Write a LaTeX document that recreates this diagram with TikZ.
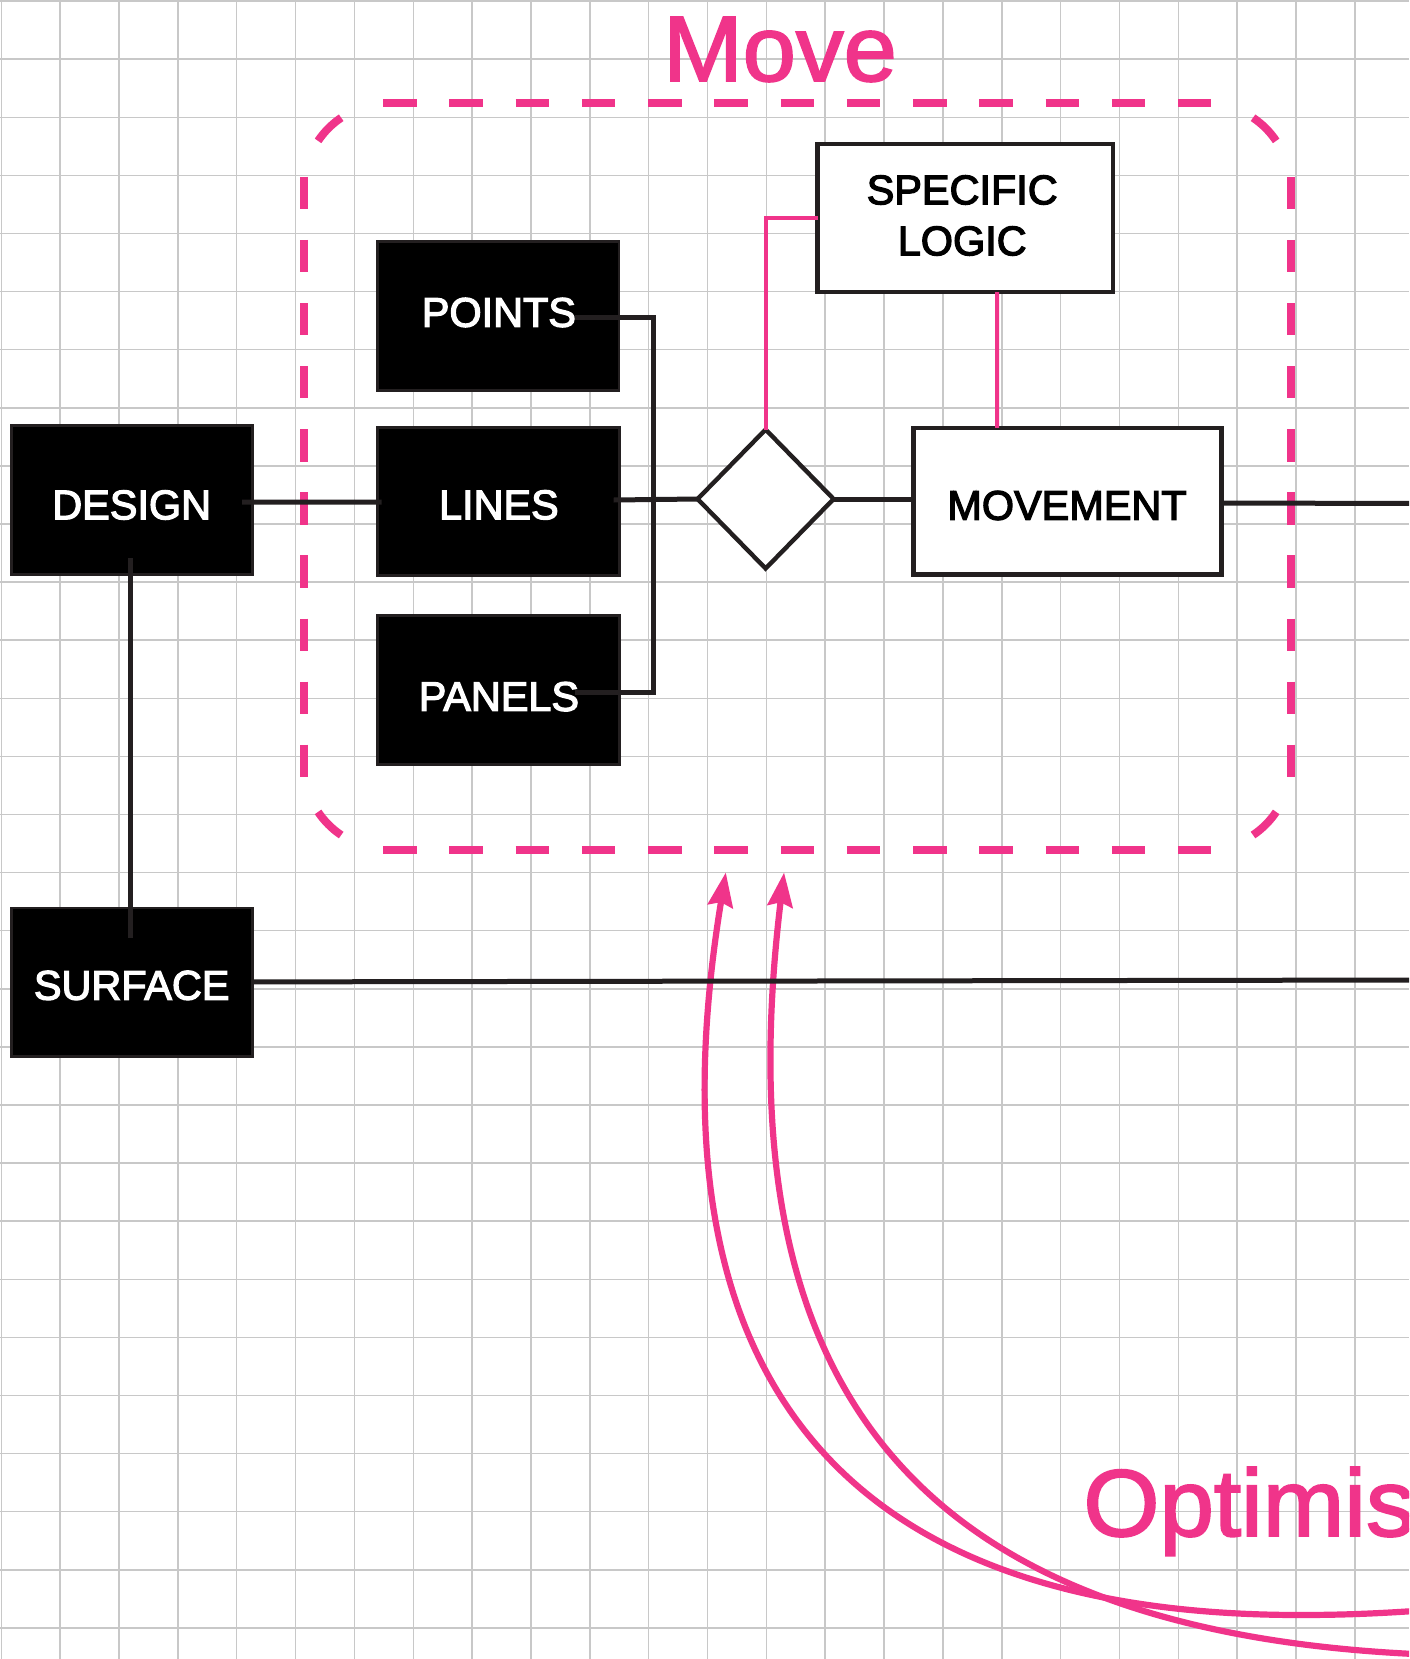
\documentclass[tikz,border=0pt]{standalone}
\usepackage{fontspec}
\setmainfont{Liberation Sans}
\newfontfamily\boxfont[FakeBold=3]{Liberation Sans}
\newfontfamily\bigfont[FakeBold=2,FakeStretch=1.03]{Liberation Sans}
\usetikzlibrary{shapes.geometric,arrows.meta,calc}
\definecolor{pinkc}{RGB}{240,52,138}
\definecolor{inkc}{RGB}{35,31,32}
\definecolor{gridc}{RGB}{200,200,200}
\tikzset{
  blackbox/.style={rectangle,fill=black,draw=inkc,line width=1.4pt,inner sep=0pt,outer sep=0pt},
  whitebox/.style={rectangle,fill=white,draw=inkc,line width=2.2pt,inner sep=0pt,outer sep=0pt},
  decision/.style={diamond,fill=white,draw=inkc,line width=2.2pt,inner sep=0pt,outer sep=0pt},
  wlabel/.style={text=white,font=\boxfont\fontsize{20.7pt}{25pt}\selectfont,inner sep=0pt,align=center},
  klabel/.style={text=black,font=\boxfont\fontsize{20.7pt}{25.5pt}\selectfont,inner sep=0pt,align=center},
  blk/.style={draw=inkc,line width=2.5pt},
  pinkln/.style={draw=pinkc,line width=2pt},
  pinkdash/.style={draw=pinkc,line width=4pt},
  bigtitle/.style={text=pinkc,font=\bigfont\fontsize{46.4pt}{50pt}\selectfont,inner sep=0pt,anchor=base west},
  curvearrow/.style={draw=pinkc,line width=3.1pt,-{Stealth[length=17pt,width=12.5pt,inset=2pt]}}
}
\begin{document}
\begin{tikzpicture}[x=0.5pt,y=-0.5pt]
\useasboundingbox (0,0) rectangle (1409,1659);
\clip (0,0) rectangle (1409,1659);
\fill[white] (0,0) rectangle (1409,1659);
% grid
\foreach \k in {0,...,23} {\draw[gridc,line width=0.75pt] ({1.3+58.85*\k},0) -- ({1.3+58.85*\k},1659);}
\foreach \k in {0,...,28} {\draw[gridc,line width=0.75pt] (0,{1.1+58.1*\k}) -- (1409,{1.1+58.1*\k});}

% dashed group frame (Move)
\draw[pinkdash,dash pattern=on 16.75pt off 16.375pt] (383,103.3) -- (1211,103.3);
\draw[pinkdash,dash pattern=on 16.75pt off 16.375pt] (383,849.5) -- (1211,849.5);
\draw[pinkdash,dash pattern=on 16.15pt off 15.4pt] (303.6,176.8) -- (303.6,776.8);
\draw[pinkdash,dash pattern=on 16.15pt off 15.4pt] (1290.6,176.8) -- (1290.6,776.8);
\coordinate (ctl) at (388.6,188.3);
\coordinate (ctr) at (1205.6,188.3);
\coordinate (cbr) at (1205.6,764.5);
\coordinate (cbl) at (388.6,764.5);
\draw[pinkdash] ($(ctl)+(213.9:85)$) arc[start angle=213.9,end angle=236.1,radius=85];
\draw[pinkdash] ($(ctr)+(303.9:85)$) arc[start angle=303.9,end angle=326.1,radius=85];
\draw[pinkdash] ($(cbr)+(33.9:85)$) arc[start angle=33.9,end angle=56.1,radius=85];
\draw[pinkdash] ($(cbl)+(123.9:85)$) arc[start angle=123.9,end angle=146.1,radius=85];

\node[bigtitle] (movetitle) at (662.7,81) {Move};
\node[bigtitle,font=\bigfont\fontsize{47.5pt}{50pt}\selectfont] (opttitle) at (1083,1536) {Optimis};

% boxes
\node[blackbox,minimum width=120.4pt,minimum height=74.5pt] (design) at (131.7,500) {};
\node[blackbox,minimum width=120.6pt,minimum height=74.5pt] (points) at (498.4,316.3) {};
\node[blackbox,minimum width=120.8pt,minimum height=74.2pt] (lines) at (498.3,501.3) {};
\node[blackbox,minimum width=120.8pt,minimum height=74.2pt] (panels) at (498.3,690) {};
\node[blackbox,minimum width=120.4pt,minimum height=74.3pt] (surface) at (131.7,982.3) {};
\node[whitebox,minimum width=147.7pt,minimum height=74pt] (spec) at (965.2,218.2) {};
\node[whitebox,minimum width=154pt,minimum height=73.4pt] (movement) at (1067.4,501.2) {};
\node[decision,minimum width=68pt,minimum height=69.5pt] (dia) at (765.6,499) {};

% labels
\node[wlabel] (designtxt) at (131.7,505) {DESIGN};
\node[wlabel] (pointstxt) at (498.9,312.5) {POINTS};
\node[wlabel] (linestxt) at (498.9,504.9) {LINES};
\node[wlabel] (panelstxt) at (498.9,696.6) {PANELS};
\node[wlabel] (surfacetxt) at (131.7,985.4) {SURFACE};
\node[klabel] (spectxt) at (962.2,215.5) {SPECIFIC\\LOGIC};
\node[klabel] (movementtxt) at (1067,505.5) {MOVEMENT};

% free ends outside the picture
\coordinate (outM) at (1430,503.3);
\coordinate (outS) at (1430,980);
\coordinate (srcA) at (1530,1601);
\coordinate (srcB) at (1530,1656);
\coordinate (tipA) at (725.8,872.5);
\coordinate (tipB) at (784.1,872.5);

% pink curved arrows (beneath black lines)
\draw[curvearrow] (srcA) .. controls (1420,1612) and (1360,1615) .. (1300,1615)
   .. controls (850,1615) and (641.6,1385.7) .. (tipA);
\draw[curvearrow] (srcB) .. controls (1515,1656) and (1507,1656) .. (1500,1656)
   .. controls (920,1656) and (720.5,1398.8) .. (tipB);

% pink connectors
\draw[pinkln] (spec.west) -| (dia.north);
\draw[pinkln] ($(spec.south)+(31.8,0)$) -- ($(movement.north)+(-70.4,0)$);

% black connectors
\draw[blk] ($(design.east)+(-10,2)$) -- ($(lines.west)+(4,0.7)$);
\draw[blk] ($(design.south)+(-1.3,-16.5)$) -- ($(surface.north)+(-1.3,29.5)$);
\draw[blk] ($(points.east)+(-44.5,1.3)$) -| ($(lines.east)+(33.9,0)$) |- ($(panels.east)+(-44.5,2.6)$);
\draw[blk] ($(lines.east)+(-5.5,-1.3)$) -- (dia.west);
\draw[blk] (dia.east) -- (movement.west |- dia.east);
\draw[blk] ($(movement.east)+(0,2)$) -- (outM);
\draw[blk] ($(surface.east)+(0,-0.4)$) -- (outS);
\end{tikzpicture}
\end{document}
